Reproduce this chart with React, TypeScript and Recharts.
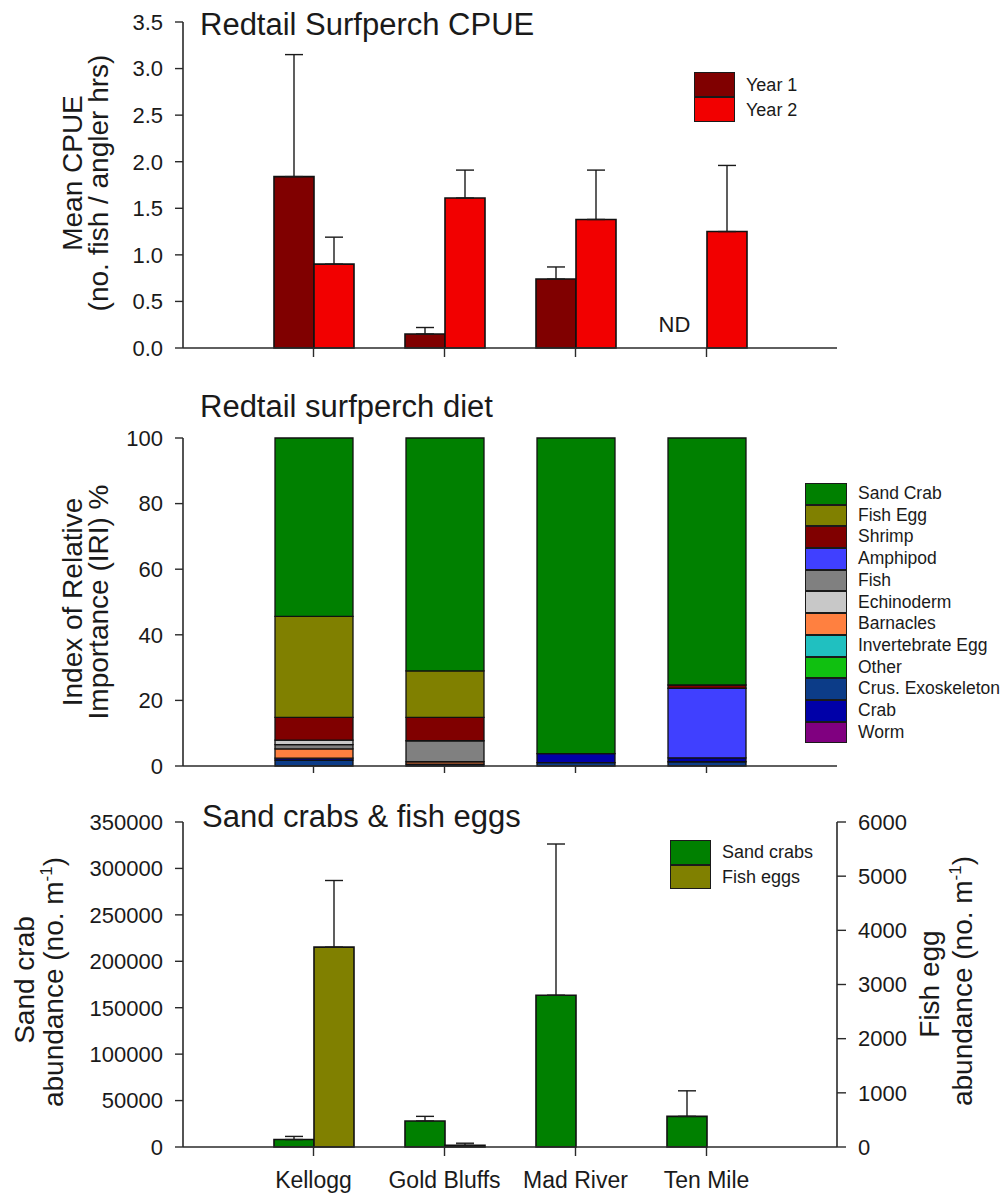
import React from 'react';
import { BarChart, Bar, XAxis, YAxis, ErrorBar, Legend, ReferenceDot } from 'recharts';

const FONT = '"Liberation Sans", Arial, Helvetica, sans-serif';
const INK = '#1a1a1a';
const AXIS = '#2a2a2a';

// ---------- shared categories ----------
const sites = ['Kellogg', 'Gold Bluffs', 'Mad River', 'Ten Mile'];

// ---------- panel 1: CPUE ----------
const cpueYear1 = [1.84, 0.15, 0.74, null];
const cpueYear1Err = [1.31, 0.07, 0.13, null];
const cpueYear2 = [0.9, 1.61, 1.38, 1.25];
const cpueYear2Err = [0.29, 0.3, 0.53, 0.71];
const cpueTicks = [0, 0.5, 1, 1.5, 2, 2.5, 3, 3.5];
const yearNames = ['Year 1', 'Year 2'];
const yearColors = ['#800000', '#f20000'];

// ---------- panel 2: diet (IRI %) ----------
const dietLegendOrder = [
  'Sand Crab', 'Fish Egg', 'Shrimp', 'Amphipod', 'Fish', 'Echinoderm',
  'Barnacles', 'Invertebrate Egg', 'Other', 'Crus. Exoskeleton', 'Crab', 'Worm',
];
const dietStackOrder = [
  'Worm', 'Crus. Exoskeleton', 'Crab', 'Other', 'Invertebrate Egg', 'Barnacles',
  'Fish', 'Echinoderm', 'Amphipod', 'Shrimp', 'Fish Egg', 'Sand Crab',
];
const dietColorList = [
  '#008000', '#808000', '#800000', '#4040ff', '#808080', '#c8c8c8',
  '#ff8040', '#20c0c0', '#10c010', '#0c3c88', '#0000a8', '#800080',
];
const dietSandCrab = [54.4, 71.0, 96.2, 75.3];
const dietFishEgg = [30.8, 14.2, 0, 0];
const dietShrimp = [6.9, 7.1, 0, 1.0];
const dietAmphipod = [0, 0, 0, 21.2];
const dietFish = [1.3, 6.4, 0, 0];
const dietEchinoderm = [1.4, 0, 0, 0];
const dietBarnacles = [2.8, 0.7, 0, 0];
const dietInvertebrateEgg = [0, 0, 0, 0];
const dietOther = [0, 0, 0, 0];
const dietCrusExoskeleton = [1.8, 0.6, 1.0, 1.3];
const dietCrab = [0.6, 0, 2.8, 1.2];
const dietWorm = [0, 0, 0, 0];
const dietTicks = [0, 20, 40, 60, 80, 100];

const dietValues: Record<string, number[]> = {
  'Sand Crab': dietSandCrab,
  'Fish Egg': dietFishEgg,
  'Shrimp': dietShrimp,
  'Amphipod': dietAmphipod,
  'Fish': dietFish,
  'Echinoderm': dietEchinoderm,
  'Barnacles': dietBarnacles,
  'Invertebrate Egg': dietInvertebrateEgg,
  'Other': dietOther,
  'Crus. Exoskeleton': dietCrusExoskeleton,
  'Crab': dietCrab,
  'Worm': dietWorm,
};
const dietColor = (name: string) => dietColorList[dietLegendOrder.indexOf(name)];

// ---------- panel 3: sand crabs & fish eggs ----------
const sandCrabs = [8000, 28000, 163500, 33000];
const sandCrabsErr = [3400, 5000, 162800, 27500];
const fishEggs = [3690, 30, 0, 0];
const fishEggsErr = [1230, 40, null, null];
const sandCrabTicks = [0, 50000, 100000, 150000, 200000, 250000, 300000, 350000];
const fishEggTicks = [0, 1000, 2000, 3000, 4000, 5000, 6000];
const abundanceNames = ['Sand crabs', 'Fish eggs'];
const abundanceColors = ['#008000', '#808000'];

// ---------- built tables ----------
const cpueData = sites.map((site, i) => ({
  site,
  y1: cpueYear1[i],
  y1e: cpueYear1Err[i] == null ? null : [0, cpueYear1Err[i]],
  y2: cpueYear2[i],
  y2e: [0, cpueYear2Err[i]],
}));

const dietData = sites.map((site, i) => {
  const row: Record<string, any> = { site };
  dietStackOrder.forEach((name) => {
    row[name] = dietValues[name][i];
  });
  return row;
});

const abundanceData = sites.map((site, i) => ({
  site,
  sc: sandCrabs[i],
  sce: [0, sandCrabsErr[i]],
  fe: fishEggs[i],
  fee: fishEggsErr[i] == null ? null : [0, fishEggsErr[i]],
}));

// ---------- helpers ----------
const tickStyle = { fontSize: 22, fill: INK, fontFamily: FONT };
const axisLine = { stroke: AXIS, strokeWidth: 1.6 };
const tickLine = { stroke: AXIS, strokeWidth: 1.4 };

type LegendItem = { name: string; color: string };
const LegendBlock = ({ items, boxW, boxH, fontSize }: { items: LegendItem[]; boxW: number; boxH: number; fontSize: number }) => (
  <div style={{ fontFamily: FONT, fontSize, color: INK }}>
    {items.map((it) => (
      <div key={it.name} style={{ display: 'flex', alignItems: 'center', height: boxH }}>
        <div
          style={{
            width: boxW,
            height: boxH,
            background: it.color,
            border: '1.2px solid #1a1a1a',
            boxSizing: 'border-box',
            flex: 'none',
          }}
        />
        <span style={{ marginLeft: 11, lineHeight: 1, whiteSpace: 'nowrap' }}>{it.name}</span>
      </div>
    ))}
  </div>
);

const rotText = (x: number, y: number, size: number, content: React.ReactNode, key: string) => (
  <text
    key={key}
    transform={`translate(${x},${y}) rotate(-90)`}
    textAnchor="middle"
    fontSize={size}
    fill={INK}
    fontFamily={FONT}
  >
    {content}
  </text>
);

const perM = (
  <>
    abundance (no. m<tspan dy={-11} fontSize={17}>-1</tspan>
    <tspan dy={11}>)</tspan>
  </>
);

const panel1Text = () => (
  <g>
    <text x={200} y={35} fontSize={31} fill={INK} fontFamily={FONT}>Redtail Surfperch CPUE</text>
    {rotText(82, 173, 28, 'Mean CPUE', 'a')}
    {rotText(108, 183, 28, '(no. fish / angler hrs)', 'b')}
  </g>
);

const panel2Text = () => (
  <g>
    <text x={200} y={37} fontSize={31} fill={INK} fontFamily={FONT}>Redtail surfperch diet</text>
    {rotText(82, 222, 28, 'Index of Relative', 'a')}
    {rotText(108, 222, 28, 'Importance (IRI) %', 'b')}
  </g>
);

const panel3Text = () => (
  <g>
    <text x={202} y={27} fontSize={31} fill={INK} fontFamily={FONT}>Sand crabs &amp; fish eggs</text>
    {rotText(34, 180, 28, 'Sand crab', 'a')}
    {rotText(63, 182, 28, perM, 'b')}
  </g>
);

const panel3RightText = () => (
  <g>
    {rotText(939, 184, 28, 'Fish egg', 'c')}
    {rotText(972, 181, 28, perM, 'd')}
  </g>
);

const ndLabel = (props: any) => {
  const vb = props.viewBox || {};
  const cx = (vb.x ?? 0) + (vb.width ?? 0) / 2;
  const cy = (vb.y ?? 0) + (vb.height ?? 0) / 2;
  return (
    <text x={cx - 32} y={cy - 16} textAnchor="middle" fontSize={22} fill={INK} fontFamily={FONT}>
      ND
    </text>
  );
};

export default function App() {
  return (
    <div
      style={{
        position: 'absolute',
        left: 0,
        top: 0,
        width: 1005,
        height: 1197,
        background: '#fff',
        fontFamily: FONT,
      }}
    >
      {/* Panel 1 */}
      <div style={{ position: 'absolute', left: 0, top: 0 }}>
        <BarChart
          width={1005}
          height={380}
          data={cpueData}
          margin={{ top: 22, right: 168, bottom: 12, left: 103 }}
          barGap={0}
        >
          <XAxis
            dataKey="site"
            height={20}
            padding={{ left: 65, right: 65 }}
            axisLine={axisLine}
            tickLine={tickLine}
            tickSize={9}
            tickFormatter={() => ''}
          />
          <YAxis
            width={80}
            domain={[0, 3.5]}
            ticks={cpueTicks}
            tickFormatter={(v: number) => v.toFixed(1)}
            tick={tickStyle}
            tickSize={8}
            tickMargin={12}
            axisLine={axisLine}
            tickLine={tickLine}
            label={{ value: 'Mean CPUE', content: panel1Text }}
          />
          <Bar dataKey="y1" name={yearNames[0]} fill={yearColors[0]} stroke="#111" strokeWidth={1.6} barSize={40} isAnimationActive={false}>
            <ErrorBar dataKey="y1e" width={9} stroke={INK} strokeWidth={1.4} direction="y" />
          </Bar>
          <Bar dataKey="y2" name={yearNames[1]} fill={yearColors[1]} stroke="#111" strokeWidth={1.6} barSize={40} isAnimationActive={false}>
            <ErrorBar dataKey="y2e" width={9} stroke={INK} strokeWidth={1.4} direction="y" />
          </Bar>
          <ReferenceDot x="Ten Mile" y={0} r={1} fill="none" stroke="none" ifOverflow="visible" label={{ value: 'ND', content: ndLabel }} />
          <Legend
            layout="vertical"
            align="center"
            verticalAlign="middle"
            wrapperStyle={{ left: 694, top: 72, width: 140 }}
            content={() => (
              <LegendBlock
                items={yearNames.map((n, i) => ({ name: n, color: yearColors[i] }))}
                boxW={41}
                boxH={25}
                fontSize={18}
              />
            )}
          />
        </BarChart>
      </div>

      {/* Panel 2 */}
      <div style={{ position: 'absolute', left: 0, top: 380 }}>
        <BarChart
          width={1005}
          height={420}
          data={dietData}
          margin={{ top: 58, right: 168, bottom: 14, left: 103 }}
        >
          <XAxis
            dataKey="site"
            height={20}
            padding={{ left: 65, right: 65 }}
            axisLine={axisLine}
            tickLine={tickLine}
            tickSize={7}
            tickFormatter={() => ''}
          />
          <YAxis
            width={80}
            domain={[0, 100]}
            ticks={dietTicks}
            tick={tickStyle}
            tickSize={8}
            tickMargin={12}
            axisLine={axisLine}
            tickLine={tickLine}
            label={{ value: 'Index of Relative Importance', content: panel2Text }}
          />
          {dietStackOrder.map((name) => (
            <Bar
              key={name}
              dataKey={name}
              name={name}
              stackId="diet"
              fill={dietColor(name)}
              stroke="#111"
              strokeWidth={1.3}
              barSize={78}
              isAnimationActive={false}
            />
          ))}
          <Legend
            layout="vertical"
            align="center"
            verticalAlign="middle"
            wrapperStyle={{ left: 805, top: 103, width: 200 }}
            content={() => (
              <LegendBlock
                items={dietLegendOrder.map((n) => ({ name: n, color: dietColor(n) }))}
                boxW={42}
                boxH={21.7}
                fontSize={17.5}
              />
            )}
          />
        </BarChart>
      </div>

      {/* Panel 3 */}
      <div style={{ position: 'absolute', left: 0, top: 800 }}>
        <BarChart
          width={1005}
          height={397}
          data={abundanceData}
          margin={{ top: 22, right: 88, bottom: 5, left: 103 }}
          barGap={0}
        >
          <XAxis
            dataKey="site"
            height={45}
            padding={{ left: 65, right: 65 }}
            axisLine={axisLine}
            tickLine={tickLine}
            tickSize={9}
            tickMargin={16}
            tick={{ fontSize: 23, fill: INK, fontFamily: FONT }}
          />
          <YAxis
            yAxisId="left"
            width={80}
            domain={[0, 350000]}
            ticks={sandCrabTicks}
            tick={tickStyle}
            tickSize={8}
            tickMargin={12}
            axisLine={axisLine}
            tickLine={tickLine}
            label={{ value: 'Sand crab abundance', content: panel3Text }}
          />
          <YAxis
            yAxisId="right"
            orientation="right"
            width={80}
            domain={[0, 6000]}
            ticks={fishEggTicks}
            tick={tickStyle}
            tickSize={9}
            tickMargin={12}
            axisLine={axisLine}
            tickLine={tickLine}
            label={{ value: 'Fish egg abundance', content: panel3RightText }}
          />
          <Bar yAxisId="left" dataKey="sc" name={abundanceNames[0]} fill={abundanceColors[0]} stroke="#111" strokeWidth={1.6} barSize={40} isAnimationActive={false}>
            <ErrorBar dataKey="sce" width={9} stroke={INK} strokeWidth={1.4} direction="y" />
          </Bar>
          <Bar yAxisId="right" dataKey="fe" name={abundanceNames[1]} fill={abundanceColors[1]} stroke="#111" strokeWidth={1.6} barSize={40} isAnimationActive={false}>
            <ErrorBar dataKey="fee" width={9} stroke={INK} strokeWidth={1.4} direction="y" />
          </Bar>
          <Legend
            layout="vertical"
            align="center"
            verticalAlign="middle"
            wrapperStyle={{ left: 670, top: 40, width: 160 }}
            content={() => (
              <LegendBlock
                items={abundanceNames.map((n, i) => ({ name: n, color: abundanceColors[i] }))}
                boxW={41}
                boxH={24.5}
                fontSize={18}
              />
            )}
          />
        </BarChart>
      </div>
    </div>
  );
}
